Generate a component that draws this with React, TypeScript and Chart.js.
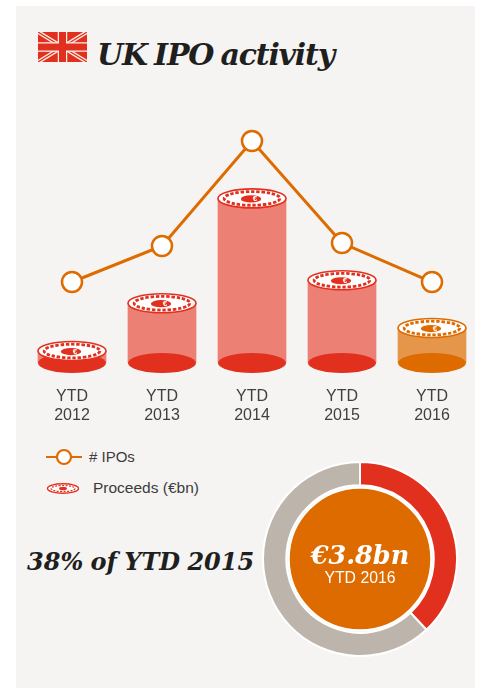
import React, { useEffect, useRef } from "react";
import { Chart, registerables } from "chart.js";

Chart.register(...registerables);

const categories = [["YTD", "2012"], ["YTD", "2013"], ["YTD", "2014"], ["YTD", "2015"], ["YTD", "2016"]];
const proceeds = [1.3, 6.5, 17.9, 9.0, 3.8];
const ipos = [27, 39, 74, 40, 27];
const shareLabels = ["YTD 2016", "Remainder of YTD 2015"];
const shareValues = [38, 62];

const RED = "#e2301f";
const ORANGE = "#de6b00";
const GREY = "#bdb5ab";
const barColors = ["#ec8074", "#ec8074", "#ec8074", "#ec8074", "#e5964a"];
const baseColors = [RED, RED, RED, RED, ORANGE];
const FONT_WIDE = "'DejaVu Serif', serif";
const FONT_SANS = "'Liberation Sans', Arial, sans-serif";

function drawCoin(ctx: CanvasRenderingContext2D, x: number, y: number, rx: number, ry: number, color: string) {
  ctx.save();
  ctx.translate(x, y);
  ctx.fillStyle = "#ffffff";
  ctx.strokeStyle = color;
  ctx.lineWidth = 1.6;
  ctx.beginPath();
  ctx.ellipse(0, 0, rx, ry, 0, 0, Math.PI * 2);
  ctx.fill();
  ctx.stroke();
  ctx.lineWidth = 2.8;
  ctx.setLineDash([3.4, 1.8]);
  ctx.beginPath();
  ctx.ellipse(0, 0, rx * 0.82, ry * 0.72, 0, 0, Math.PI * 2);
  ctx.stroke();
  ctx.setLineDash([]);
  ctx.fillStyle = color;
  ctx.beginPath();
  ctx.ellipse(-1, 0.5, rx * 0.3, ry * 0.38, 0, 0, Math.PI * 2);
  ctx.fill();
  ctx.fillStyle = "#ffffff";
  ctx.font = "bold 8px " + FONT_SANS;
  ctx.textAlign = "center";
  ctx.textBaseline = "middle";
  ctx.fillText("€", 3, 0.5);
  ctx.restore();
}

const cylinderPlugin = {
  id: "cylinders",
  afterDatasetDraw(chart: any, args: any) {
    if (args.meta.type !== "bar") return;
    const ctx = chart.ctx;
    args.meta.data.forEach((bar: any, i: number) => {
      const rx = bar.width / 2;
      ctx.fillStyle = baseColors[i];
      ctx.beginPath();
      ctx.ellipse(bar.x, bar.base, rx, 10, 0, 0, Math.PI * 2);
      ctx.fill();
      drawCoin(ctx, bar.x, bar.y, rx, 9.5, baseColors[i] === ORANGE ? ORANGE : RED);
    });
  },
};

const centrePlugin = {
  id: "centreDisc",
  afterDatasetsDraw(chart: any) {
    const arc = chart.getDatasetMeta(0).data[0];
    const ctx = chart.ctx;
    ctx.save();
    ctx.fillStyle = ORANGE;
    ctx.strokeStyle = "#ffffff";
    ctx.lineWidth = 2;
    ctx.beginPath();
    ctx.arc(arc.x, arc.y, arc.innerRadius - 2.5, 0, Math.PI * 2);
    ctx.fill();
    ctx.stroke();
    ctx.restore();
  },
};

const abs = (left: number, top: number, extra: React.CSSProperties = {}): React.CSSProperties => ({
  position: "absolute",
  left,
  top,
  whiteSpace: "nowrap",
  ...extra,
});

function Flag() {
  return (
    <svg style={abs(38, 32)} width={49} height={30} viewBox="0 0 49 30">
      <rect width={49} height={30} fill={RED} />
      <path d="M0 0L49 30M49 0L0 30" stroke="#f8efe9" strokeWidth={4} />
      <path d="M0 0L49 30M49 0L0 30" stroke={RED} strokeWidth={1.2} />
      <path d="M24.5 0V30M0 15H49" stroke="#f8efe9" strokeWidth={9.5} />
      <path d="M24.5 0V30M0 15H49" stroke={RED} strokeWidth={7} />
    </svg>
  );
}

export default function App() {
  const mainRef = useRef<HTMLCanvasElement>(null);
  const ringRef = useRef<HTMLCanvasElement>(null);

  useEffect(() => {
    const main = new Chart(mainRef.current as HTMLCanvasElement, {
      type: "bar",
      data: {
        labels: categories as any,
        datasets: [
          {
            type: "line",
            label: "# IPOs",
            data: ipos,
            yAxisID: "yIpo",
            order: 0,
            borderColor: ORANGE,
            borderWidth: 3,
            pointRadius: 10,
            pointBorderWidth: 2.5,
            pointBackgroundColor: "#ffffff",
            pointBorderColor: ORANGE,
            tension: 0,
          },
          {
            type: "bar",
            label: "Proceeds (€bn)",
            data: proceeds,
            yAxisID: "y",
            order: 1,
            backgroundColor: barColors,
            barThickness: 68,
          },
        ],
      } as any,
      options: {
        animation: false,
        responsive: false,
        layout: { autoPadding: false, padding: { left: 27, right: 5, top: 100, bottom: 0 } },
        plugins: { legend: { display: false }, tooltip: { enabled: false } },
        scales: {
          x: {
            grid: { display: false },
            border: { display: false },
            ticks: {
              color: "#404040",
              font: { family: "'Liberation Sans'", size: 16, lineHeight: 1.13 },
              padding: 17,
              maxRotation: 0,
              autoSkip: false,
            },
            afterFit(scale: any) {
              scale.height = 67;
            },
          },
          y: { display: false, min: 0, max: 28.6 },
          yIpo: { display: false, min: 0, max: 87.67 },
        },
      } as any,
      plugins: [cylinderPlugin],
    });

    const ring = new Chart(ringRef.current as HTMLCanvasElement, {
      type: "doughnut",
      data: {
        labels: shareLabels,
        datasets: [
          {
            data: shareValues,
            backgroundColor: [RED, GREY],
            borderColor: "#ffffff",
            borderWidth: 2,
          },
        ],
      },
      options: {
        animation: false,
        responsive: false,
        cutout: "76%",
        plugins: { legend: { display: false }, tooltip: { enabled: false } },
      } as any,
      plugins: [centrePlugin],
    });

    return () => {
      main.destroy();
      ring.destroy();
    };
  }, []);

  return (
    <div style={{ position: "absolute", left: 0, top: 0, width: 482, height: 688, overflow: "hidden", background: "#ffffff" }}>
      <div style={abs(16, 6, { width: 459, height: 682, background: "#f5f4f2" })} />
      <Flag />
      <div
        style={abs(97, 36, {
          font: "italic bold 30px " + FONT_WIDE,
          color: "#1f1f1e",
          lineHeight: "38px",
          letterSpacing: "-1.2px",
          wordSpacing: "-2px",
        })}
      >
        UK IPO activity
      </div>
      <canvas ref={mainRef} width={482} height={430} style={abs(0, 0, { display: "block" })} />

      <svg style={abs(46, 447)} width={36} height={20}>
        <path d="M0 10H36" stroke={ORANGE} strokeWidth={2} />
        <circle cx={18} cy={10} r={7} fill="#ffffff" stroke={ORANGE} strokeWidth={2.2} />
      </svg>
      <div style={abs(89, 448, { font: "15px " + FONT_SANS, color: "#3c3c3b", lineHeight: "18px" })}># IPOs</div>
      <svg style={abs(46, 482)} width={34} height={13}>
        <ellipse cx={17} cy={6.5} rx={15.5} ry={4.8} fill="#ffffff" stroke={RED} strokeWidth={1.4} />
        <ellipse cx={17} cy={6.5} rx={12} ry={3} fill="none" stroke={RED} strokeWidth={1.2} strokeDasharray="2 1.4" />
        <ellipse cx={17} cy={6.5} rx={4} ry={1.8} fill={RED} />
      </svg>
      <div style={abs(93, 479, { font: "15.5px " + FONT_SANS, color: "#3c3c3b", lineHeight: "18px" })}>Proceeds (€bn)</div>

      <div style={abs(27, 547, { font: "italic bold 24px " + FONT_WIDE, color: "#1f1f1e", lineHeight: "30px", wordSpacing: "-1px" })}>
        38% of YTD 2015
      </div>

      <canvas ref={ringRef} width={196} height={196} style={abs(262, 461, { display: "block" })} />
      <div
        style={abs(260, 540, {
          width: 200,
          textAlign: "center",
          font: "italic bold 25.5px " + FONT_WIDE,
          color: "#ffffff",
          lineHeight: "30px",
        })}
      >
        €3.8bn
      </div>
      <div
        style={abs(260, 569, {
          width: 200,
          textAlign: "center",
          font: "15.8px " + FONT_SANS,
          color: "#ffffff",
          lineHeight: "18px",
        })}
      >
        YTD 2016
      </div>
    </div>
  );
}
